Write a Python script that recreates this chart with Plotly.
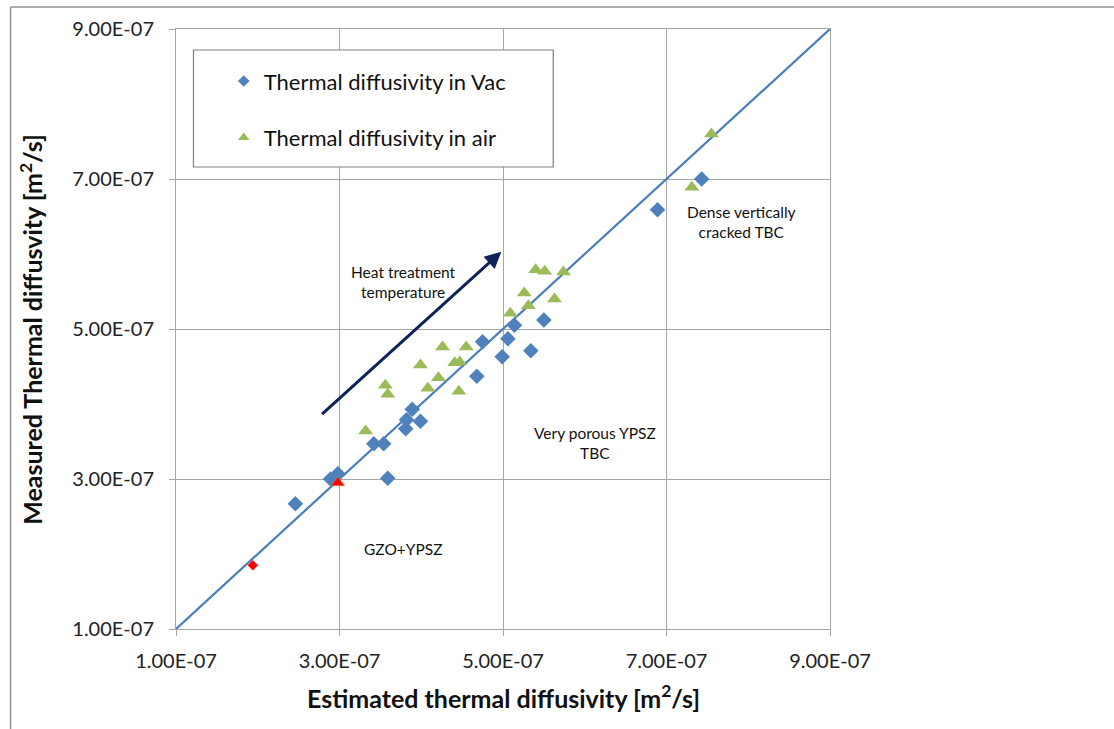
import plotly.graph_objects as go

E = 1e-7
# Thermal diffusivity in Vac (estimated, measured) in units of 1e-7 m2/s
vac_est = [2.46, 2.89, 2.98, 3.42, 3.54, 3.59, 3.81, 3.82, 3.89, 3.99, 4.68, 4.75, 4.99, 5.06, 5.14, 5.34, 5.50, 6.89, 7.43]
vac_meas = [2.67, 3.00, 3.07, 3.47, 3.47, 3.01, 3.67, 3.79, 3.93, 3.77, 4.37, 4.83, 4.63, 4.87, 5.05, 4.71, 5.12, 6.59, 7.00]
# Thermal diffusivity in air
air_est = [3.32, 3.56, 3.59, 3.99, 4.08, 4.21, 4.26, 4.41, 4.47, 4.46, 4.55, 5.09, 5.26, 5.31, 5.40, 5.51, 5.63, 5.74, 7.31, 7.55]
air_meas = [3.64, 4.25, 4.13, 4.52, 4.21, 4.35, 4.76, 4.55, 4.56, 4.17, 4.76, 5.21, 5.48, 5.31, 5.79, 5.77, 5.40, 5.76, 6.89, 7.60]
# GZO+YPSZ (red markers)
red_vac_est = [1.94]
red_vac_meas = [1.85]
red_air_est = [2.98]
red_air_meas = [2.95]
# 1:1 reference line
ref_line = [1.0, 9.0]

tick_vals = [1.0, 3.0, 5.0, 7.0, 9.0]
tick_text = ["1.00E-07", "3.00E-07", "5.00E-07", "7.00E-07", "9.00E-07"]

sc = lambda a: [v * E for v in a]

FONT = "Lato"
BLUE = "#4F81BD"
GREEN = "#9BBB59"
GRID = "#A6A6A6"

fig = go.Figure()
fig.add_trace(go.Scatter(x=sc(ref_line), y=sc(ref_line), mode="lines",
                         line=dict(color="#4A7EBB", width=2.2), showlegend=False, hoverinfo="skip"))
fig.add_trace(go.Scatter(x=sc(vac_est), y=sc(vac_meas), mode="markers", showlegend=False,
                         marker=dict(symbol="diamond", size=12, color=BLUE)))
fig.add_trace(go.Scatter(x=sc(air_est), y=sc(air_meas), mode="markers", showlegend=False,
                         marker=dict(symbol="triangle-up", size=13, color=GREEN)))
fig.add_trace(go.Scatter(x=sc(red_vac_est), y=sc(red_vac_meas), mode="markers", showlegend=False,
                         marker=dict(symbol="diamond", size=8, color="#FF0000")))
fig.add_trace(go.Scatter(x=sc(red_air_est), y=sc(red_air_meas), mode="markers", showlegend=False,
                         marker=dict(symbol="triangle-up", size=12, color="#FF0000",
                                     line=dict(color="#C0A060", width=0.5))))
# legend entries (smaller symbols, as in the reference legend)
fig.add_trace(go.Scatter(x=[None], y=[None], mode="markers", name="Thermal diffusivity in Vac",
                         legendgroup="a", marker=dict(symbol="diamond", size=9, color=BLUE)))
fig.add_trace(go.Scatter(x=[None], y=[None], mode="markers", name="Thermal diffusivity in air",
                         legendgroup="b", marker=dict(symbol="triangle-up", size=10, color=GREEN)))

axis_common = dict(
    range=[1.0 * E, 9.0 * E], tickvals=sc(tick_vals), ticktext=tick_text,
    showgrid=True, gridcolor=GRID, gridwidth=1, zeroline=False,
    showline=True, linecolor=GRID, linewidth=1, mirror=True,
    ticks="outside", ticklen=6, tickcolor=GRID,
    tickfont=dict(family=FONT, size=20, color="#222222"),
)
fig.update_xaxes(**axis_common, ticklabelstandoff=8)
fig.update_yaxes(**axis_common, ticklabelstandoff=11)

ann_font = dict(family=FONT, size=15.5, color="#111111")
annotations = [
    dict(x=3.78 * E, y=5.63 * E, text="Heat treatment<br>temperature", showarrow=False, font=ann_font),
    dict(x=7.92 * E, y=6.43 * E, text="Dense vertically<br>cracked TBC", showarrow=False, font=ann_font),
    dict(x=6.12 * E, y=3.48 * E, text="Very porous YPSZ<br>TBC", showarrow=False, font=ann_font),
    dict(x=3.78 * E, y=2.07 * E, text="GZO+YPSZ", showarrow=False, font=ann_font),
    dict(x=4.98 * E, y=6.03 * E, ax=2.75 * E, ay=3.83 * E, axref="x", ayref="y", xref="x", yref="y",
         text=" ", showarrow=True, arrowhead=2, arrowsize=1.1, arrowwidth=3, arrowcolor="#0F2358"),
    dict(x=0.5, y=-0.113, xref="paper", yref="paper", xanchor="center", yanchor="middle",
         text="<b>Estimated thermal diffusivity [m<sup>2</sup>/s]</b>", showarrow=False,
         font=dict(family=FONT, size=25, color="#111111")),
    dict(x=-0.222, y=0.5, xref="paper", yref="paper", xanchor="center", yanchor="middle", textangle=-90,
         text="<b>Measured Thermal diffusvity [m<sup>2</sup>/s]</b>", showarrow=False,
         font=dict(family=FONT, size=25, color="#111111")),
]

shapes = [
    # legend box
    dict(type="rect", xref="paper", yref="paper", x0=0.0267, x1=0.5768, y0=0.77, y1=0.965,
         fillcolor="white", line=dict(color="#808080", width=1.2), layer="above"),
    # outer chart frame (top and left)
    dict(type="line", xref="paper", yref="paper", x0=-0.253, x1=1.7, y0=1.0367, y1=1.0367,
         line=dict(color="#909090", width=1.5)),
    dict(type="line", xref="paper", yref="paper", x0=-0.253, x1=-0.253, y0=1.0367, y1=-0.2,
         line=dict(color="#909090", width=1.5)),
]

fig.update_layout(
    width=1114, height=729,
    margin=dict(l=175.5, r=284, t=29, b=100),
    paper_bgcolor="white", plot_bgcolor="white",
    font=dict(family=FONT),
    showlegend=True,
    legend=dict(x=0.073, y=0.948, xanchor="left", yanchor="top", bgcolor="rgba(0,0,0,0)",
                font=dict(family=FONT, size=22, color="#111111"), tracegroupgap=25),
    annotations=annotations, shapes=shapes,
)

fig.write_html("out.html")
